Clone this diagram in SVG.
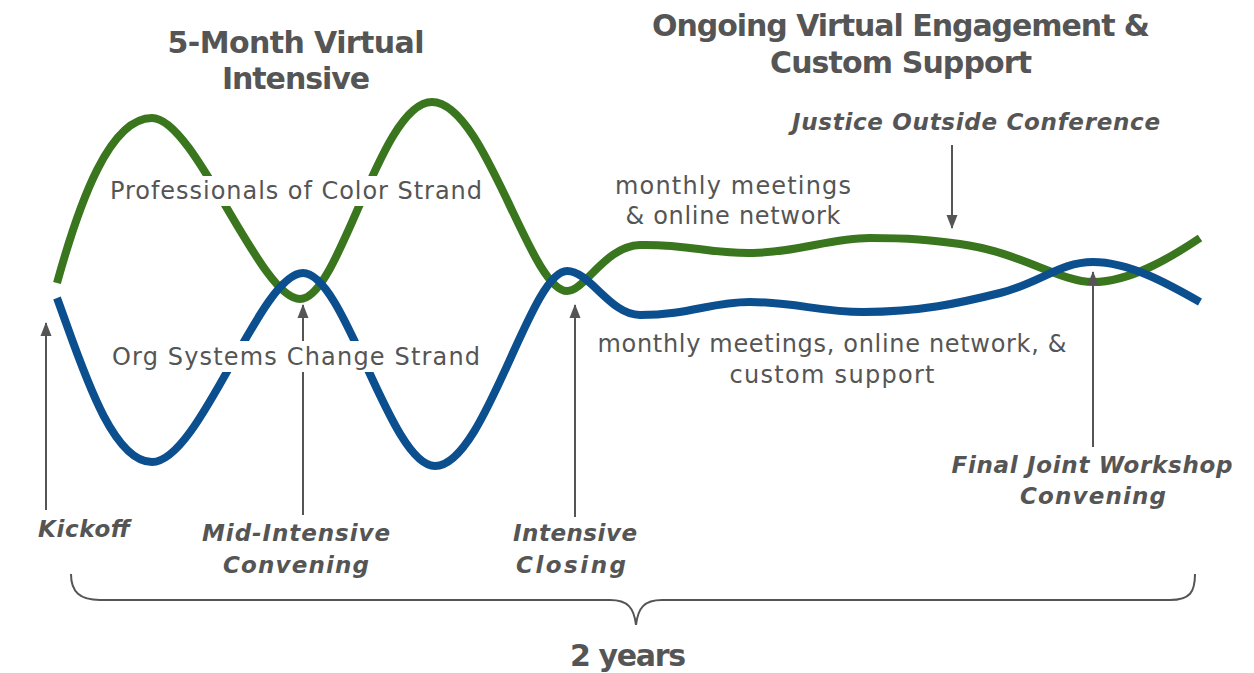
<svg xmlns="http://www.w3.org/2000/svg" width="1254" height="673" viewBox="0 0 1254 673">
<style>
text{font-family:"DejaVu Sans","Noto Sans","Liberation Sans",sans-serif;fill:#555555;text-anchor:middle}
.h{font-weight:700;font-size:30px}
.lab{font-weight:700;font-style:italic;font-size:23px}
.reg{font-size:24px}
.g{fill:none;stroke:#3a761e;stroke-width:8}
.b{fill:none;stroke:#0b4f8f;stroke-width:8}
.arr{stroke:#555555;stroke-width:2;fill:none}
.bg{fill:#ffffff}
</style>
<defs>
<marker id="ah" markerWidth="14" markerHeight="12" refX="13" refY="6" orient="auto" markerUnits="userSpaceOnUse"><path d="M0,0.5 L14,6 L0,11.5 Z" fill="#555555"/></marker>
</defs>
<rect width="1254" height="673" fill="#ffffff"/>
<g id="strands">
<path id="green" class="g" d="M57,283 C80,200 110,118 152,118 C195,118 260,299 300,299 C340,299 380,102 432,102 C485,102 530,291 567,291 C585,291 605,246 640,245 C690,244 710,254 753,253 C800,252 830,238 870,238 C910,238 930,240 960,244 C1020,252 1060,282 1093,282 C1130,282 1170,258 1200,238"/>
<path id="blue" class="b" d="M57,298 C80,360 110,462 152,462 C200,462 260,273 303,273 C345,273 390,466 435,466 C485,466 530,271 567,271 C590,271 610,315 640,315 C690,315 710,302 750,302 C795,302 820,312 863,312 C920,312 960,303 1000,293 C1040,283 1060,262 1093,262 C1130,262 1170,285 1200,302"/>
</g>
<g id="connectors">
<line class="arr" x1="46" y1="510" x2="46" y2="323" marker-end="url(#ah)"/>
<line class="arr" x1="303" y1="515" x2="303" y2="305" marker-end="url(#ah)"/>
<line class="arr" x1="575" y1="517" x2="575" y2="305" marker-end="url(#ah)"/>
<line class="arr" x1="1093" y1="447" x2="1093" y2="272" marker-end="url(#ah)"/>
<line class="arr" x1="952" y1="145" x2="952" y2="228" marker-end="url(#ah)"/>
</g>
<g id="strand-pro">
<rect class="bg" x="106" y="176" width="380" height="30"/>
<text class="reg" x="296" y="199" textLength="372">Professionals of Color Strand</text>
</g>
<g id="strand-org">
<rect class="bg" x="108" y="341" width="376" height="31"/>
<text class="reg" x="296" y="365" textLength="368">Org Systems Change Strand</text>
</g>
<g id="title-intensive">
<text class="h" x="296" y="53" textLength="257">5-Month Virtual</text>
<text class="h" x="296" y="89" textLength="148">Intensive</text>
</g>
<g id="title-ongoing">
<text class="h" x="901" y="36" textLength="498">Ongoing Virtual Engagement &amp;</text>
<text class="h" x="901" y="73" textLength="262">Custom Support</text>
</g>
<g id="justice">
<text class="lab" x="976" y="130" textLength="368">Justice Outside Conference</text>
</g>
<g id="green-note">
<text class="reg" x="733" y="194" textLength="236">monthly meetings</text>
<text class="reg" x="733" y="224" textLength="215">&amp; online network</text>
</g>
<g id="blue-note">
<text class="reg" x="832" y="352" textLength="469">monthly meetings, online network, &amp;</text>
<text class="reg" x="832" y="383" textLength="205">custom support</text>
</g>
<g id="kickoff"><text class="lab" x="84" y="537" textLength="92">Kickoff</text></g>
<g id="mid">
<text class="lab" x="296" y="541" textLength="188">Mid-Intensive</text>
<text class="lab" x="296" y="573" textLength="146">Convening</text>
</g>
<g id="closing">
<text class="lab" x="575" y="541" textLength="124">Intensive</text>
<text class="lab" x="571" y="573" textLength="110">Closing</text>
</g>
<g id="final">
<text class="lab" x="1092" y="473" textLength="281">Final Joint Workshop</text>
<text class="lab" x="1093" y="504" textLength="146">Convening</text>
</g>
<g id="brace">
<path class="arr" stroke-width="1.3" d="M71,574 C71,592 80,600 100,600 L610,600 C628,600 634,608 636,625 C638,608 644,600 662,600 L1170,600 C1190,600 1195,592 1195,574"/>
<text class="h" x="628" y="666" textLength="116">2 years</text>
</g>
</svg>
